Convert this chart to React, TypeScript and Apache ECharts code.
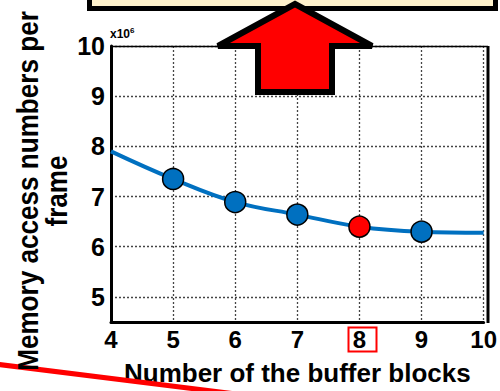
import React, { useEffect, useRef } from "react";
import * as echarts from "echarts";

const xValues = [4, 5, 6, 7, 8, 9, 10];
const memoryAccess = [7.9, 7.35, 6.89, 6.64, 6.4, 6.3, 6.28];
const markedX = [5, 6, 7, 8, 9];
const highlightX = 8;
const yTicks = [5, 6, 7, 8, 9, 10];
const xTicks = [4, 5, 6, 7, 8, 9, 10];

const FONT = "'Liberation Sans', Arial, sans-serif";

export default function App() {
  const ref = useRef<HTMLDivElement>(null);
  useEffect(() => {
    if (!ref.current) return;
    const chart = echarts.init(ref.current, null, { renderer: "svg" });
    const data = xValues.map((x, i) => {
      const item: any = { value: [x, memoryAccess[i]] };
      if (!markedX.includes(x)) item.symbol = "none";
      if (x === highlightX) item.itemStyle = { color: "#FF0000" };
      return item;
    });
    chart.setOption({
      animation: false,
      backgroundColor: "#ffffff",
      grid: { left: 111, right: 12, top: 46, bottom: 68, containLabel: false, show: false },
      xAxis: {
        type: "value",
        min: 4,
        max: 10,
        interval: 1,
        name: "Number of the buffer blocks",
        nameLocation: "middle",
        nameGap: 38,
        nameTextStyle: { fontFamily: FONT, fontWeight: "bold", fontSize: 26, color: "#000" },
        axisLine: { show: true, onZero: false, lineStyle: { color: "#000", width: 3 } },
        axisTick: { show: false, customValues: xTicks },
        axisLabel: {
          customValues: xTicks,
          fontFamily: FONT,
          fontWeight: "bold",
          fontSize: 24,
          color: "#000",
          margin: 5,
        },
        splitLine: { show: true, lineStyle: { color: "#444", type: [2, 2], width: 1.3 } },
      },
      yAxis: {
        type: "value",
        min: 4.5,
        max: 10,
        axisLine: { show: true, onZero: false, lineStyle: { color: "#000", width: 3 } },
        axisTick: { show: false, customValues: yTicks },
        axisLabel: {
          customValues: yTicks,
          fontFamily: FONT,
          fontWeight: "bold",
          fontSize: 25,
          color: "#000",
          margin: 6,
        },
        splitLine: { show: true, lineStyle: { color: "#444", type: [2, 2], width: 1.3 } },
      },
      series: [
        {
          type: "line",
          data,
          smooth: 0.4,
          symbol: "circle",
          symbolSize: 21,
          lineStyle: { color: "#0070C0", width: 4 },
          itemStyle: { color: "#0070C0", borderColor: "#000", borderWidth: 1.5 },
          z: 5,
        },
      ],
      graphic: [
        { type: "line", shape: { x1: 111, y1: 46.5, x2: 488, y2: 46.5 }, style: { stroke: "#000", lineWidth: 1.5 }, z: 3 },
        { type: "line", shape: { x1: 488, y1: 46, x2: 488, y2: 323 }, style: { stroke: "#000", lineWidth: 3 }, z: 3 },
        {
          type: "text",
          x: 13,
          y: 191,
          rotation: Math.PI / 2,
          scaleX: 0.87,
          style: {
            text: "Memory access numbers per\nframe",
            fontFamily: FONT,
            fontWeight: "bold",
            fontSize: 30,
            lineHeight: 29,
            fill: "#000",
            align: "center",
            verticalAlign: "top",
          },
          z: 10,
        },
        { type: "text", x: 110, y: 28, style: { text: "x10", fontFamily: FONT, fontWeight: "bold", fontSize: 12, fill: "#000" } },
        { type: "text", x: 130, y: 26, style: { text: "6", fontFamily: FONT, fontWeight: "bold", fontSize: 8, fill: "#000" } },
        { type: "rect", shape: { x: 348.5, y: 327.5, width: 28, height: 24 }, style: { fill: "none", stroke: "#FF0000", lineWidth: 2 }, z: 10 },
        { type: "line", shape: { x1: -5, y1: 364, x2: 260, y2: 397 }, style: { stroke: "#FF0000", lineWidth: 5 }, z: 1 },
        { type: "rect", shape: { x: 89.5, y: -20, width: 406, height: 28.5 }, style: { fill: "#FFF2CC", stroke: "#000", lineWidth: 5 }, z: 12 },
        {
          type: "polygon",
          shape: {
            points: [
              [295, 4],
              [372, 46],
              [332, 46],
              [332, 92],
              [258, 92],
              [258, 46],
              [218, 46],
            ],
          },
          style: { fill: "#FF0000", stroke: "#000", lineWidth: 6, lineJoin: "miter" },
          z: 13,
        },
      ],
    });
    return () => chart.dispose();
  }, []);
  return <div ref={ref} style={{ width: 500, height: 391, position: "absolute", left: 0, top: 0 }} />;
}
